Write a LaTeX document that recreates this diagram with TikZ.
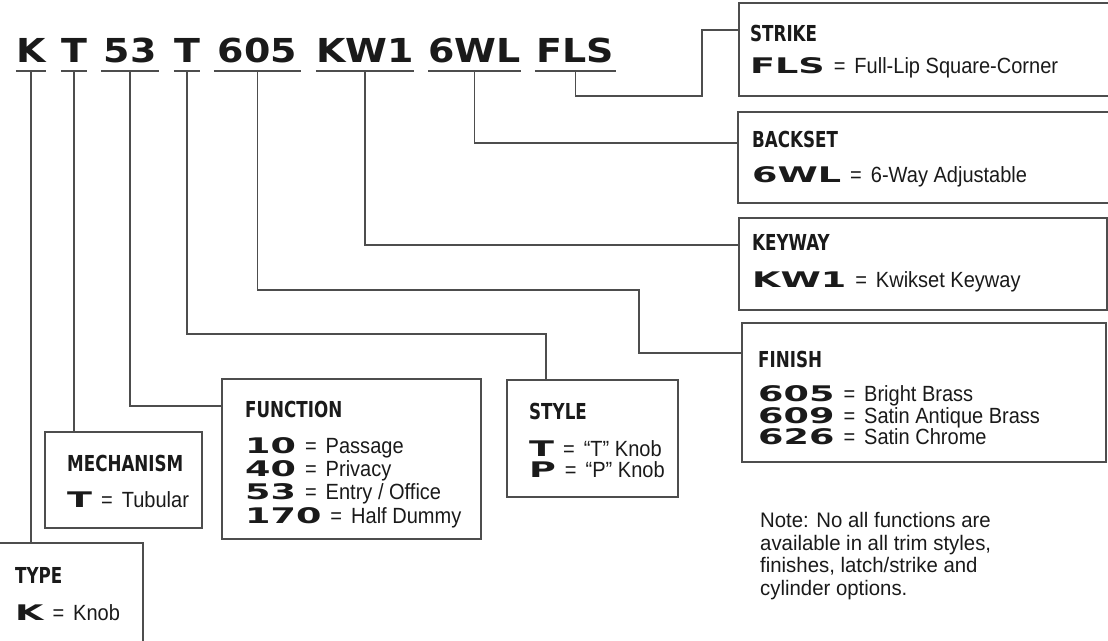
\documentclass[tikz,border=0pt]{standalone}
\usepackage{fontspec}
\newfontfamily\topcodefont{DejaVu Sans Bold}[FakeStretch=1.15]
\newfontfamily\boxcodefont{DejaVu Sans Bold}[FakeStretch=1.7]
\newfontfamily\headfont{DejaVu Sans Bold}[FakeStretch=0.76]
\newfontfamily\bodyfont{Liberation Sans}[FakeStretch=0.91]
\newfontfamily\notefont{Liberation Sans}[FakeStretch=0.97]
\definecolor{lc}{RGB}{77,77,77}
\definecolor{tc}{RGB}{26,26,26}
\newcommand\cd[1]{{\boxcodefont\fontsize{21.5}{21.5}\selectfont #1}}
\newcommand\eqs{\hspace{9pt}=\hspace{9pt}}
\tikzset{
  conn/.style={draw=lc, line width=1.4pt},
  box/.style={draw=lc, line width=1.4pt, anchor=north west, inner sep=0pt, outer sep=0pt},
  head/.style={anchor=base west, inner sep=0pt, text=tc, font=\headfont\fontsize{22}{22}\selectfont},
  row/.style={anchor=base west, inner sep=0pt, text=tc, font=\bodyfont\fontsize{22}{22}\selectfont},
  rowblock/.style={anchor=north west, inner sep=0pt, text=tc, align=left,
    font={\bodyfont\fontsize{22}{21.2}\selectfont\lineskiplimit=-100pt\lineskip=0pt}},
  topcode/.style={anchor=base, inner sep=0pt, text=tc, font=\topcodefont\fontsize{33}{33}\selectfont},
  notetext/.style={anchor=north west, inner sep=0pt, text=tc, align=left, font=\notefont\fontsize{21}{22.7}\selectfont},
  uline/.style={conn}
}
\begin{document}
\begin{tikzpicture}[x=1pt,y=-1pt]
\useasboundingbox (0,0) rectangle (1108,640);

% top code
\node[topcode, minimum width=30pt] (cK) at (31,62) {K};
\node[topcode, minimum width=26pt] (cT1) at (74,62) {T};
\node[topcode, minimum width=58pt] (c53) at (130,62) {53};
\node[topcode, minimum width=26pt] (cT2) at (187,62) {T};
\node[topcode, minimum width=87pt] (c605) at (257.5,62) {605};
\node[topcode, minimum width=98pt] (cKW) at (365,62) {KW1};
\node[topcode, minimum width=91pt] (c6WL) at (474.5,62) {6WL};
\node[topcode, minimum width=81pt] (cFLS) at (575.5,62) {FLS};
\foreach \n in {cK,cT1,c53,cT2,c605,cKW,c6WL,cFLS}
  \draw[uline] ([yshift=-9pt]\n.base west) -- ([yshift=-9pt]\n.base east);

% boxes
\node[box, minimum width=380pt, minimum height=93pt] (strike) at (739,3) {};
\node[box, minimum width=380pt, minimum height=91pt] (backset) at (738,112) {};
\node[box, minimum width=368pt, minimum height=92pt] (keyway) at (739,218) {};
\node[box, minimum width=364pt, minimum height=139pt] (finish) at (742,323) {};
\node[box, minimum width=171pt, minimum height=117pt] (style) at (507,380) {};
\node[box, minimum width=259pt, minimum height=160pt] (func) at (222,379) {};
\node[box, minimum width=157pt, minimum height=96pt] (mech) at (45,432) {};
\node[box, minimum width=153pt, minimum height=110pt] (typeB) at (-10,543) {};

% texts
\node[head] (hStrike) at (750,41) {STRIKE};
\node[row] (rStrike) at (750,73) {\cd{FLS}\eqs Full-Lip Square-Corner};
\node[head] (hBack) at (752,147) {BACKSET};
\node[row] (rBack) at (752,182) {\cd{6WL}\eqs 6-Way Adjustable};
\node[head] (hKey) at (752,250) {KEYWAY};
\node[row] (rKey) at (752,287) {\cd{KW1}\eqs Kwikset Keyway};
\node[head] (hFin) at (758,367) {FINISH};
\node[rowblock] (rFin) at (758,385.7) {\cd{605}\eqs Bright Brass\\\cd{609}\eqs Satin Antique Brass\\\cd{626}\eqs Satin Chrome};
\node[head] (hStyle) at (529,419) {STYLE};
\node[row] (rSty1) at (529,456) {\cd{T}\eqs “T” Knob};
\node[row] (rSty2) at (529,477) {\cd{P}\eqs “P” Knob};
\node[head] (hFunc) at (245,417) {FUNCTION};
\node[row] (rF1) at (245,453) {\cd{10}\eqs Passage};
\node[row] (rF2) at (245,476) {\cd{40}\eqs Privacy};
\node[row] (rF3) at (245,499.5) {\cd{53}\eqs Entry / Office};
\node[row] (rF4) at (245,523) {\cd{170}\eqs Half Dummy};
\node[head] (hMech) at (67,471) {MECHANISM};
\node[row] (rMech) at (67,507) {\cd{T}\eqs Tubular};
\node[head] (hType) at (15,583) {TYPE};
\node[row] (rType) at (15,620) {\cd{K}\eqs Knob};

\node[notetext] (note) at (760,512) {Note: No all functions are\\available in all trim styles,\\finishes, latch/strike and\\cylinder options.};

% connectors
\coordinate (styleIn) at ([xshift=39pt]style.north west);
\coordinate (fj) at (639,290);
\coordinate (sj) at (702,96);
\draw[conn] ([yshift=-9pt]cK.base) -- (cK.base |- typeB.north);
\draw[conn] ([yshift=-9pt]cT1.base) -- (cT1.base |- mech.north);
\draw[conn] ([yshift=-9pt]c53.base) |- ([yshift=-27pt]func.north west);
\draw[conn] ([yshift=-9pt]cT2.base) |- ([yshift=46pt]styleIn) -- (styleIn);
\draw[conn] ([yshift=-9pt]c605.base) |- (fj) |- ([yshift=-30pt]finish.north west);
\draw[conn] ([yshift=-9pt]cKW.base) |- ([yshift=-27pt]keyway.north west);
\draw[conn] ([yshift=-9pt]c6WL.base) |- ([yshift=-31pt]backset.north west);
\draw[conn] ([yshift=-9pt]cFLS.base) |- (sj) |- ([yshift=-27pt]strike.north west);
\end{tikzpicture}
\end{document}
